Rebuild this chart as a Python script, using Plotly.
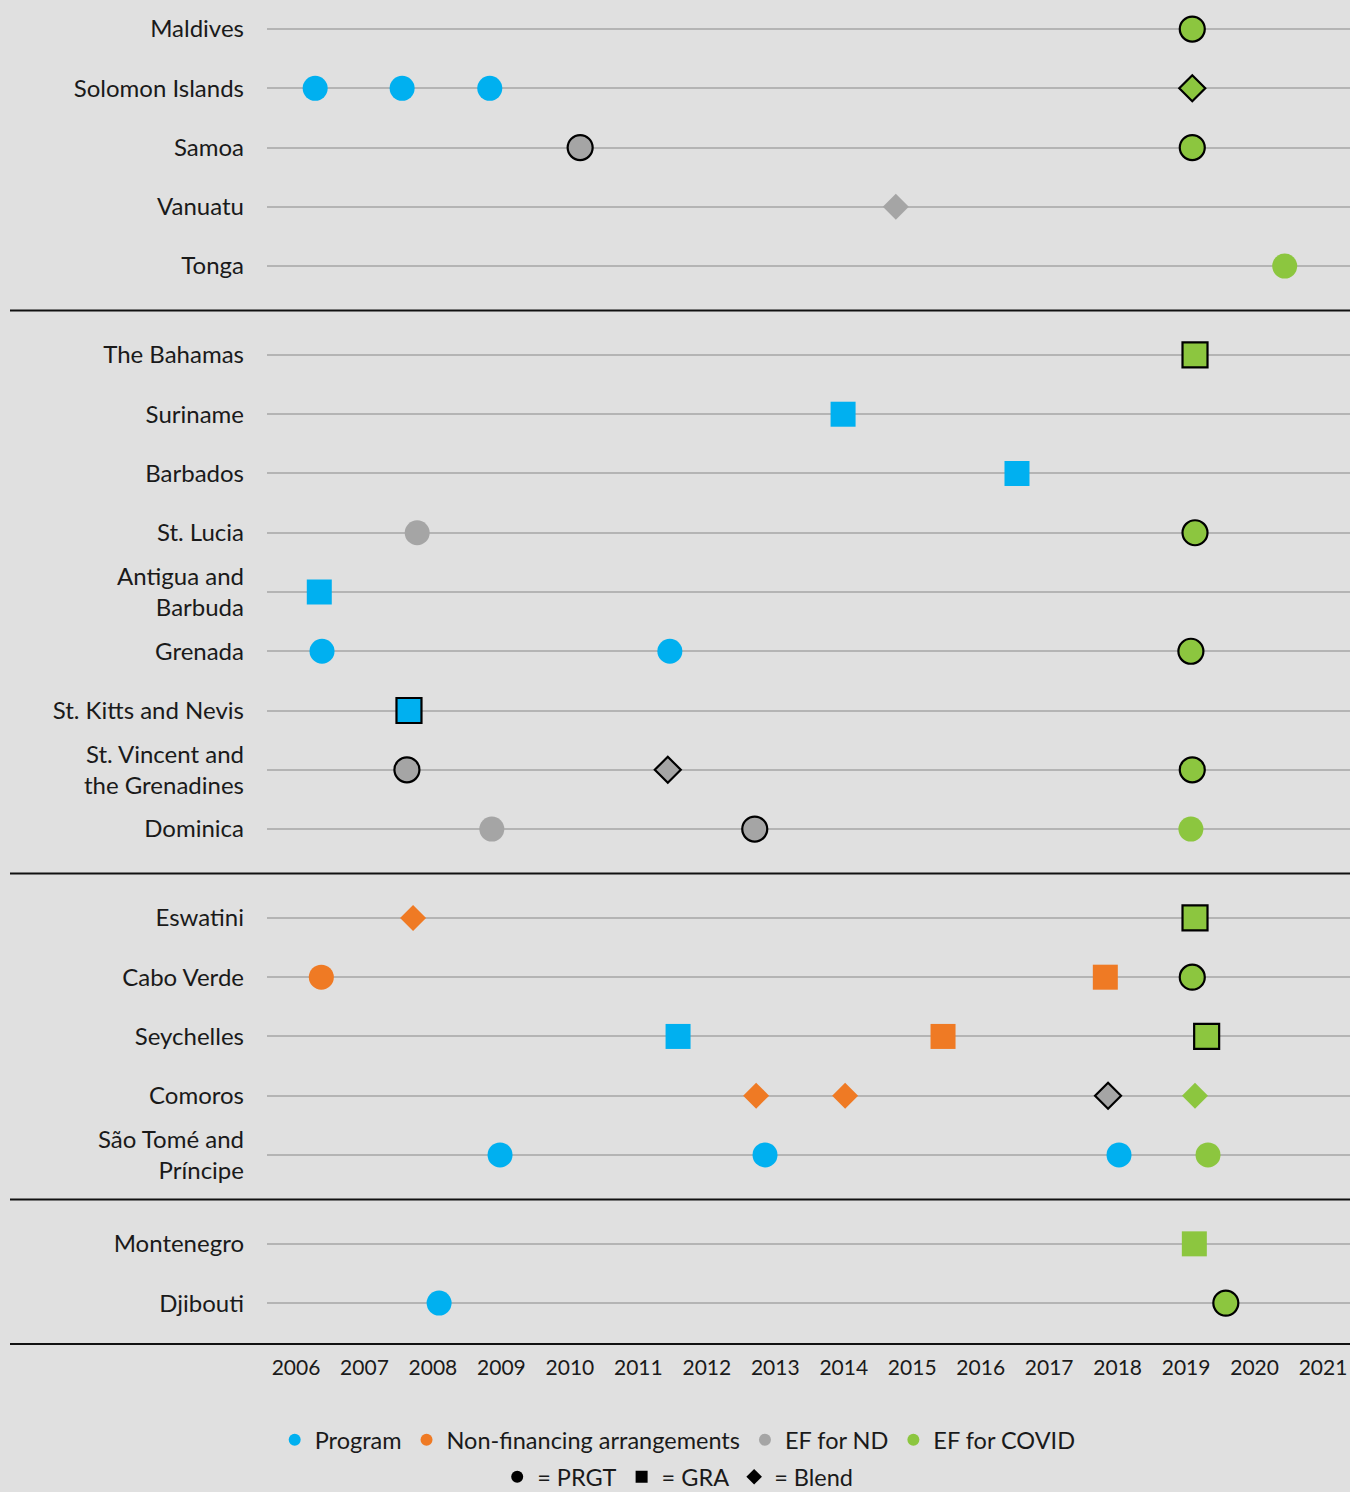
import plotly.graph_objects as go

# ---------------- data ----------------
group_pacific = ["Maldives", "Solomon Islands", "Samoa", "Vanuatu", "Tonga"]
group_caribbean = ["The Bahamas", "Suriname", "Barbados", "St. Lucia", "Antigua and Barbuda",
                   "Grenada", "St. Kitts and Nevis", "St. Vincent and the Grenadines", "Dominica"]
group_africa = ["Eswatini", "Cabo Verde", "Seychelles", "Comoros", "São Tomé and Príncipe"]
group_other = ["Montenegro", "Djibouti"]

label_text = {
    "Antigua and Barbuda": "Antigua and<br>Barbuda",
    "St. Vincent and the Grenadines": "St. Vincent and<br>the Grenadines",
    "São Tomé and Príncipe": "São Tomé and<br>Príncipe",
}

year_ticks = list(range(2006, 2022))

point_country = [
    "Maldives",
    "Solomon Islands", "Solomon Islands", "Solomon Islands", "Solomon Islands",
    "Samoa", "Samoa",
    "Vanuatu",
    "Tonga",
    "The Bahamas",
    "Suriname",
    "Barbados",
    "St. Lucia", "St. Lucia",
    "Antigua and Barbuda",
    "Grenada", "Grenada", "Grenada",
    "St. Kitts and Nevis",
    "St. Vincent and the Grenadines", "St. Vincent and the Grenadines", "St. Vincent and the Grenadines",
    "Dominica", "Dominica", "Dominica",
    "Eswatini", "Eswatini",
    "Cabo Verde", "Cabo Verde", "Cabo Verde",
    "Seychelles", "Seychelles", "Seychelles",
    "Comoros", "Comoros", "Comoros", "Comoros",
    "São Tomé and Príncipe", "São Tomé and Príncipe", "São Tomé and Príncipe", "São Tomé and Príncipe",
    "Montenegro",
    "Djibouti", "Djibouti",
]
point_year = [
    2019.09,
    2006.28, 2007.55, 2008.83, 2019.09,
    2010.15, 2019.09,
    2014.76,
    2020.44,
    2019.13,
    2013.99,
    2016.53,
    2007.77, 2019.13,
    2006.34,
    2006.38, 2011.46, 2019.07,
    2007.65,
    2007.62, 2011.43, 2019.09,
    2008.86, 2012.70, 2019.07,
    2007.71, 2019.13,
    2006.37, 2017.82, 2019.09,
    2011.58, 2015.45, 2019.30,
    2012.72, 2014.02, 2017.86, 2019.13,
    2008.98, 2012.85, 2018.02, 2019.32,
    2019.12,
    2008.09, 2019.58,
]
point_type = [
    "EF for COVID",
    "Program", "Program", "Program", "EF for COVID",
    "EF for ND", "EF for COVID",
    "EF for ND",
    "EF for COVID",
    "EF for COVID",
    "Program",
    "Program",
    "EF for ND", "EF for COVID",
    "Program",
    "Program", "Program", "EF for COVID",
    "Program",
    "EF for ND", "EF for ND", "EF for COVID",
    "EF for ND", "EF for ND", "EF for COVID",
    "Non-financing arrangements", "EF for COVID",
    "Non-financing arrangements", "Non-financing arrangements", "EF for COVID",
    "Program", "Non-financing arrangements", "EF for COVID",
    "Non-financing arrangements", "Non-financing arrangements", "EF for ND", "EF for COVID",
    "Program", "Program", "Program", "EF for COVID",
    "EF for COVID",
    "Program", "EF for COVID",
]
point_facility = [
    "PRGT",
    "PRGT", "PRGT", "PRGT", "Blend",
    "PRGT", "PRGT",
    "Blend",
    "PRGT",
    "GRA",
    "GRA",
    "GRA",
    "PRGT", "PRGT",
    "GRA",
    "PRGT", "PRGT", "PRGT",
    "GRA",
    "PRGT", "Blend", "PRGT",
    "PRGT", "PRGT", "PRGT",
    "Blend", "GRA",
    "PRGT", "GRA", "PRGT",
    "GRA", "GRA", "GRA",
    "Blend", "Blend", "Blend", "Blend",
    "PRGT", "PRGT", "PRGT", "PRGT",
    "GRA",
    "PRGT", "PRGT",
]
point_outlined = [
    1,
    0, 0, 0, 1,
    1, 1,
    0,
    0,
    1,
    0,
    0,
    0, 1,
    0,
    0, 0, 1,
    1,
    1, 1, 1,
    0, 1, 0,
    0, 1,
    0, 0, 1,
    0, 0, 1,
    0, 0, 1, 0,
    0, 0, 0, 0,
    0,
    0, 1,
]

type_names = ["Program", "Non-financing arrangements", "EF for ND", "EF for COVID"]
facility_names = ["PRGT", "GRA", "Blend"]

# ---------------- styling ----------------
type_colors = {
    "Program": "#00b0f0",
    "Non-financing arrangements": "#ef7a24",
    "EF for ND": "#a5a5a5",
    "EF for COVID": "#8cc63f",
}
facility_symbol = {"PRGT": "circle", "GRA": "square", "Blend": "diamond"}
facility_size = {"PRGT": 25, "GRA": 25, "Blend": 20}

FONT = "Lato"
BG = "#e0e0e0"
TEXT = "#1a1a1a"
GROUP_GAP = 1.5

groups = [group_pacific, group_caribbean, group_africa, group_other]
row_pos = {}
separators = []
pos = 0.0
for gi, g in enumerate(groups):
    if gi > 0:
        separators.append(pos - 1 + GROUP_GAP / 2)
        pos += GROUP_GAP - 1
    for c in g:
        row_pos[c] = pos
        pos += 1
last_row = pos - 1
y_top = -0.49
y_bottom = last_row + 0.69

fig = go.Figure()

for t in type_names:
    idx = [i for i, tt in enumerate(point_type) if tt == t]
    fig.add_trace(go.Scatter(
        x=[point_year[i] for i in idx],
        y=[row_pos[point_country[i]] for i in idx],
        mode="markers",
        showlegend=False,
        hoverinfo="skip",
        marker=dict(
            color=type_colors[t],
            opacity=1,
            symbol=[facility_symbol[point_facility[i]] for i in idx],
            size=[facility_size[point_facility[i]] for i in idx],
            line=dict(color="#000000", width=[2.2 if point_outlined[i] else 0 for i in idx]),
        ),
    ))

# legend rows
for t in type_names:
    fig.add_trace(go.Scatter(
        x=[None], y=[None], mode="markers", name=t,
        marker=dict(color=type_colors[t], symbol="circle", size=14, opacity=1),
        legend="legend",
    ))
for f in facility_names:
    fig.add_trace(go.Scatter(
        x=[None], y=[None], mode="markers", name="= " + f,
        marker=dict(color="#000000", symbol=facility_symbol[f], size=14, opacity=1),
        legend="legend2",
    ))

shapes = []
x_left_paper = (10 - 267) / (1350 - 267)
for s in separators:
    shapes.append(dict(type="line", xref="paper", yref="y", x0=x_left_paper, x1=1,
                       y0=s, y1=s, line=dict(color="#111111", width=2)))
shapes.append(dict(type="line", xref="paper", yref="paper", x0=x_left_paper, x1=1,
                   y0=0, y1=0, line=dict(color="#111111", width=2)))

all_rows = [c for g in groups for c in g]

px_per_year = 68.47
x_left = 2006 - 29 / px_per_year
x_right = 2006 + (1350 - 296) / px_per_year

fig.update_layout(
    width=1350, height=1492,
    margin=dict(l=267, r=0, t=0, b=148),
    paper_bgcolor=BG, plot_bgcolor=BG,
    font=dict(family=FONT, size=21, color=TEXT),
    shapes=shapes,
    xaxis=dict(
        range=[x_left, x_right], tickvals=year_ticks, ticktext=[str(y) for y in year_ticks],
        showgrid=False, zeroline=False, showline=False, ticks="",
        tickfont=dict(size=21, color=TEXT), ticklabelstandoff=9,
    ),
    yaxis=dict(
        range=[y_bottom, y_top], tickvals=[row_pos[c] for c in all_rows],
        ticktext=[label_text.get(c, c) for c in all_rows],
        showgrid=True, gridcolor="#b4b4b4", gridwidth=1.5,
        zeroline=False, showline=False, ticks="",
        tickfont=dict(size=24, color=TEXT), ticklabelstandoff=22,
    ),
    legend=dict(orientation="h", xref="container", yref="container",
                x=0.502, y=(1492 - 1440) / 1492, xanchor="center", yanchor="middle",
                bgcolor="rgba(0,0,0,0)", font=dict(size=23.5, color=TEXT), itemsizing="constant"),
    legend2=dict(orientation="h", xref="container", yref="container",
                 x=0.502, y=(1492 - 1477) / 1492, xanchor="center", yanchor="middle",
                 bgcolor="rgba(0,0,0,0)", font=dict(size=23.5, color=TEXT), itemsizing="constant"),
)

fig.write_html("out.html", config={"displayModeBar": False},
               post_script="document.body.style.margin='0';")
